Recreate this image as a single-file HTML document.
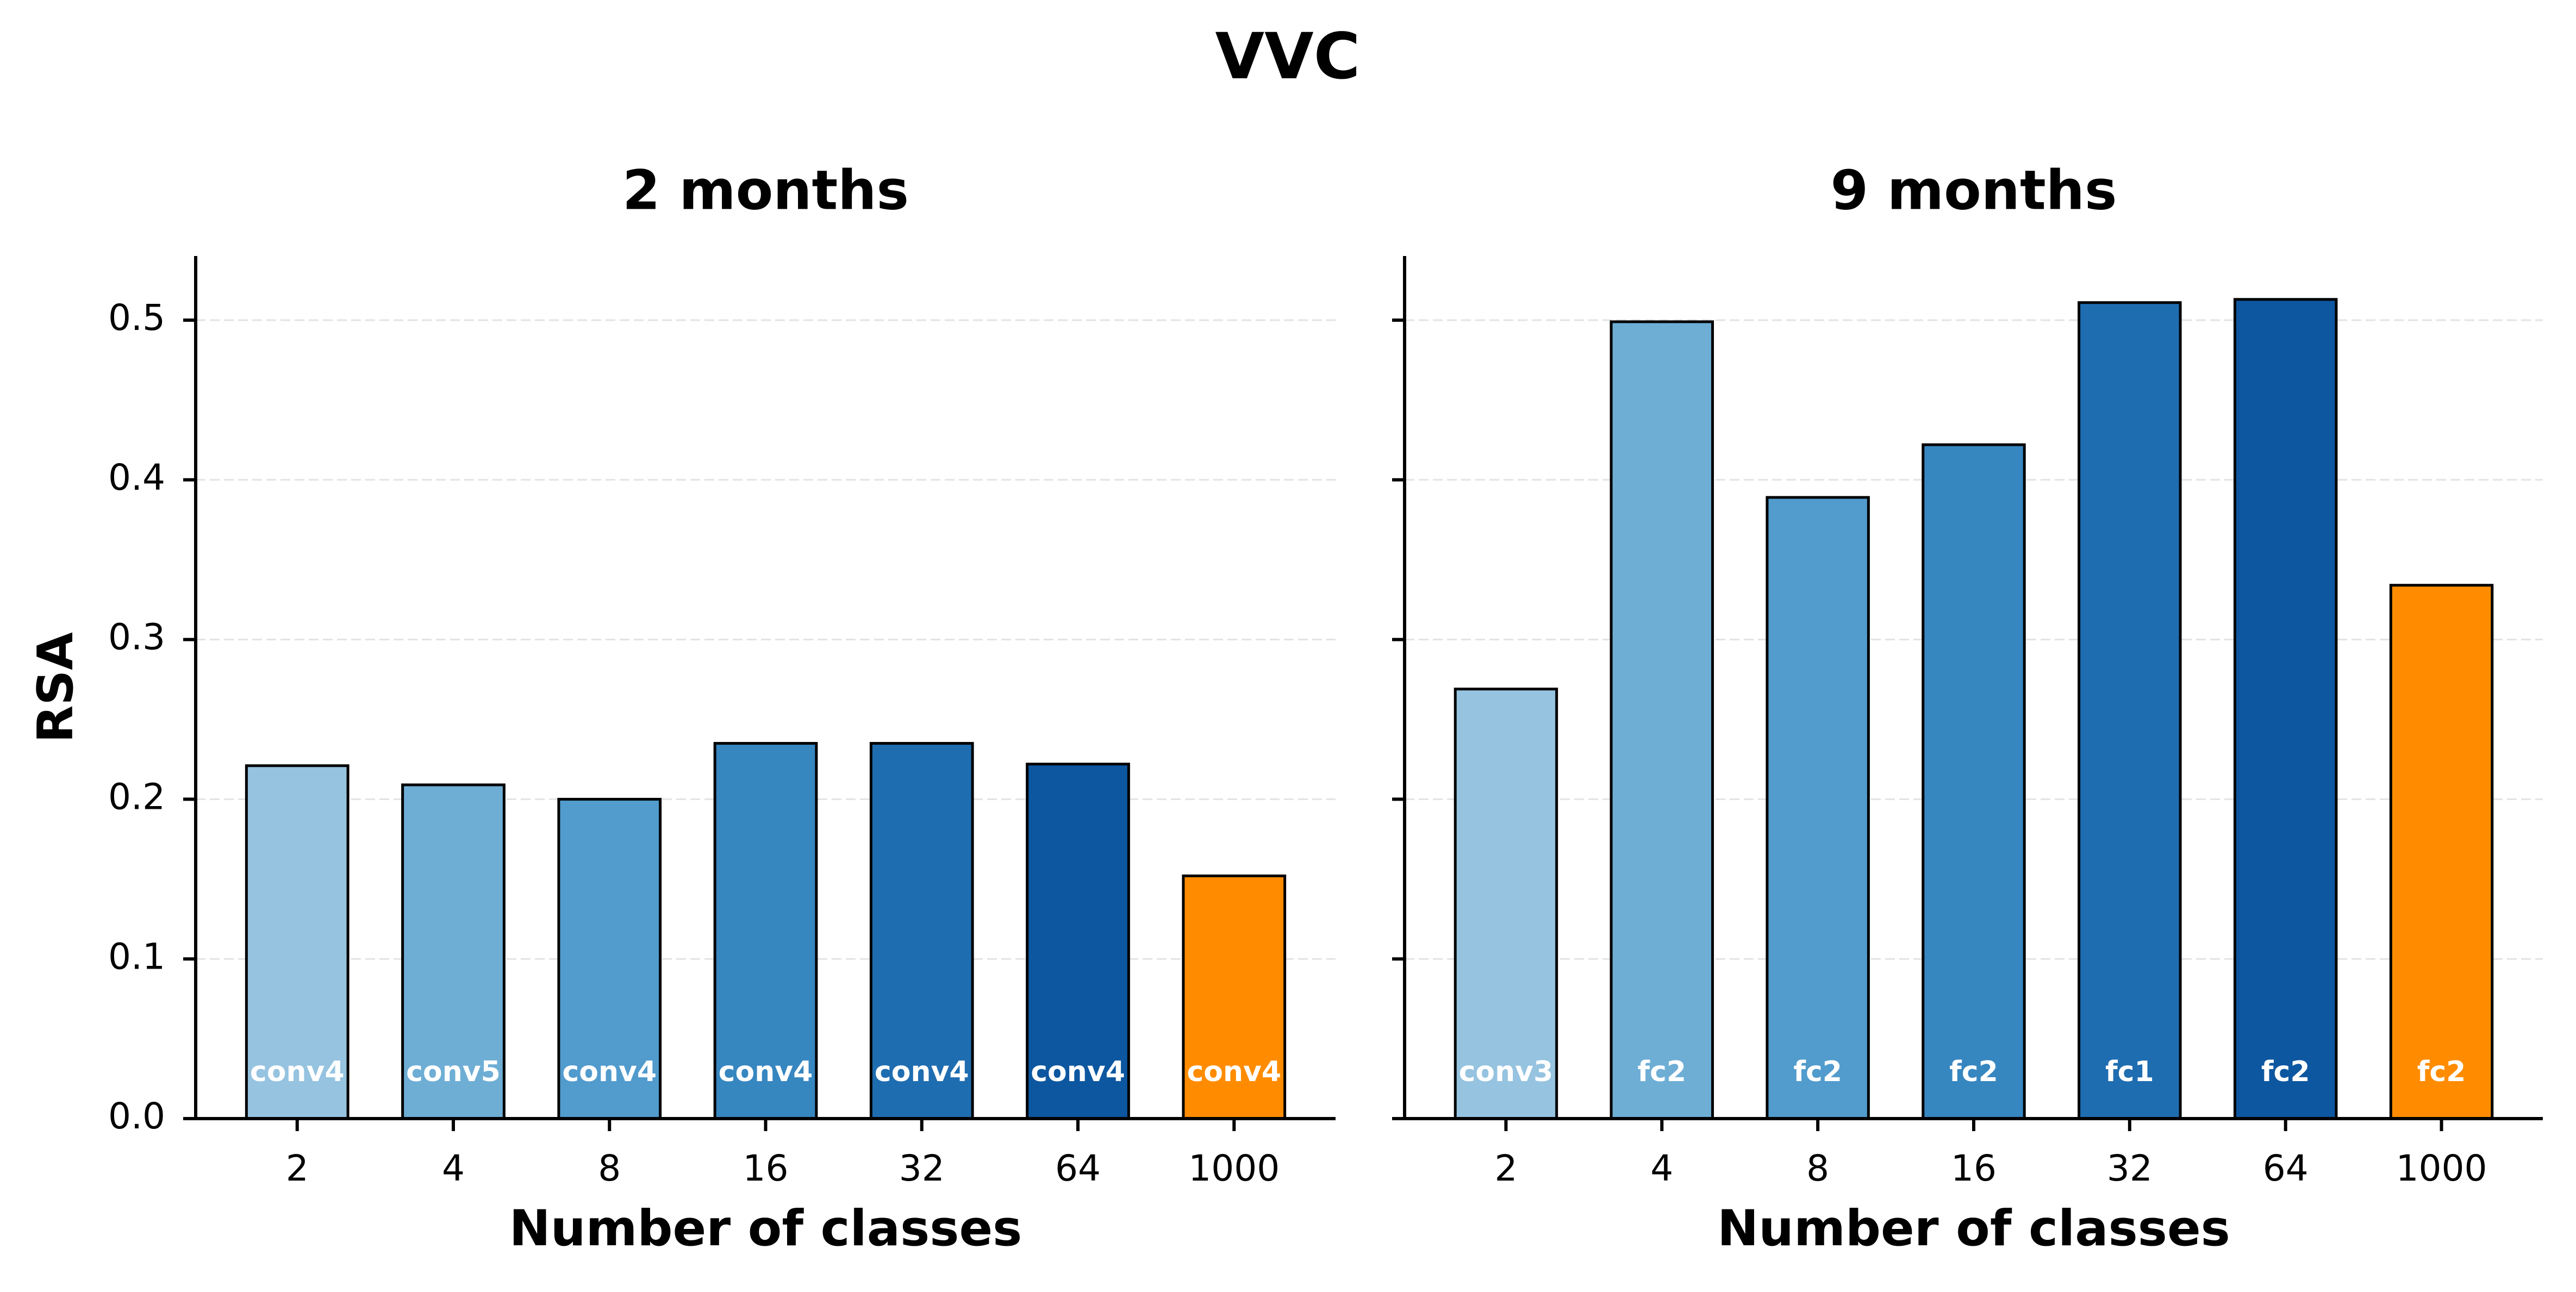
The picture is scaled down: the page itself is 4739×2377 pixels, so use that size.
<!DOCTYPE html>
<html><head><meta charset="utf-8"><style>
html,body{margin:0;padding:0;background:#fff;}
svg{display:block;font-family:"DejaVu Sans","Liberation Sans",sans-serif;}
</style></head><body>
<svg id="chart" width="4739" height="2377" viewBox="0 0 4739 2377" xmlns="http://www.w3.org/2000/svg">
<rect width="4739" height="2377" fill="#fff"/>
<text x="2369" y="112" font-size="117" font-weight="bold" text-anchor="middle" dominant-baseline="middle">VVC</text>
</svg>
<script>
const categories = ["2","4","8","16","32","64","1000"];
const values2m = [0.221,0.209,0.200,0.235,0.235,0.222,0.152];
const values9m = [0.269,0.499,0.389,0.422,0.511,0.513,0.334];
const layers2m = ["conv4","conv5","conv4","conv4","conv4","conv4","conv4"];
const layers9m = ["conv3","fc2","fc2","fc2","fc1","fc2","fc2"];
const yTicks = [0.0,0.1,0.2,0.3,0.4,0.5];
const colors = ["#95c3e0","#6eaed5","#519bcd","#3686c0","#1f6db1","#0d57a0","#ff8c00"];
const svg = document.getElementById('chart');
const NS = "http://www.w3.org/2000/svg";
function mk(tag, attrs, parent){const e=document.createElementNS(NS,tag);for(const k in attrs)e.setAttribute(k,attrs[k]);(parent||svg).appendChild(e);return e;}
const y0=2058, yTop=471, pxPerUnit=2938;
function yS(v){return y0 - v*pxPerUnit;}
function panel(left,right,title,vals,labels,showY,key){
  const g=mk('g',{});
  
  
  const xmin=-0.65,xmax=6.65;
  const xS=i=>left+(i-xmin)/(xmax-xmin)*(right-left);
  const bw=0.65*(right-left)/(xmax-xmin);
  yTicks.forEach(t=>{
    if(t>0){const gl=mk('line',{x1:left,x2:right,y1:yS(t),y2:yS(t),stroke:'#e3e3e3','stroke-width':3,'stroke-dasharray':'18,8'},g);
    
    }
    const tk=mk('line',{x1:left-23,x2:left,y1:yS(t),y2:yS(t),stroke:'#000','stroke-width':6},g);
    
    
    if(showY){const tl=mk('text',{x:left-56,y:yS(t),'font-size':66,'text-anchor':'end','dominant-baseline':'middle'},g);tl.textContent=t.toFixed(1);
    
    }
  });
  vals.forEach((v,i)=>{
    const b=mk('rect',{x:xS(i)-bw/2,y:yS(v),width:bw,height:y0-yS(v),fill:colors[i],stroke:'#000','stroke-width':5},g);
    
    
    const bl=mk('text',{x:xS(i),y:1975,'font-size':52,'font-weight':'bold',fill:'#fff','text-anchor':'middle','dominant-baseline':'middle'},g);bl.textContent=labels[i];
    
    
    const tk=mk('line',{x1:xS(i),x2:xS(i),y1:y0,y2:y0+23,stroke:'#000','stroke-width':6},g);
    
    
    const xl=mk('text',{x:xS(i),y:2154,'font-size':66,'text-anchor':'middle','dominant-baseline':'middle'},g);xl.textContent=categories[i];
    
    
  });
  const ax=mk('line',{x1:left,x2:left,y1:yTop,y2:y0+3,stroke:'#000','stroke-width':6},g);
  
  
  const bx=mk('line',{x1:left-3,x2:right,y1:y0,y2:y0,stroke:'#000','stroke-width':6},g);
  
  
  const tt=mk('text',{x:(left+right)/2,y:357,'font-size':100,'font-weight':'bold','text-anchor':'middle','dominant-baseline':'middle'},g);tt.textContent=title;
  
  
  const xt=mk('text',{x:(left+right)/2,y:2266,'font-size':91,'font-weight':'bold','text-anchor':'middle','dominant-baseline':'middle'},g);xt.textContent="Number of classes";
  
  
}
panel(360,2457,"2 months",values2m,layers2m,true,'two-months');
panel(2584,4678,"9 months",values9m,layers9m,false,'nine-months');
const yt=mk('text',{x:108,y:1265,'font-size':90,'font-weight':'bold','text-anchor':'middle','dominant-baseline':'middle',transform:'rotate(-90 108 1265)'});
yt.textContent="RSA";


</script>
</body></html>
